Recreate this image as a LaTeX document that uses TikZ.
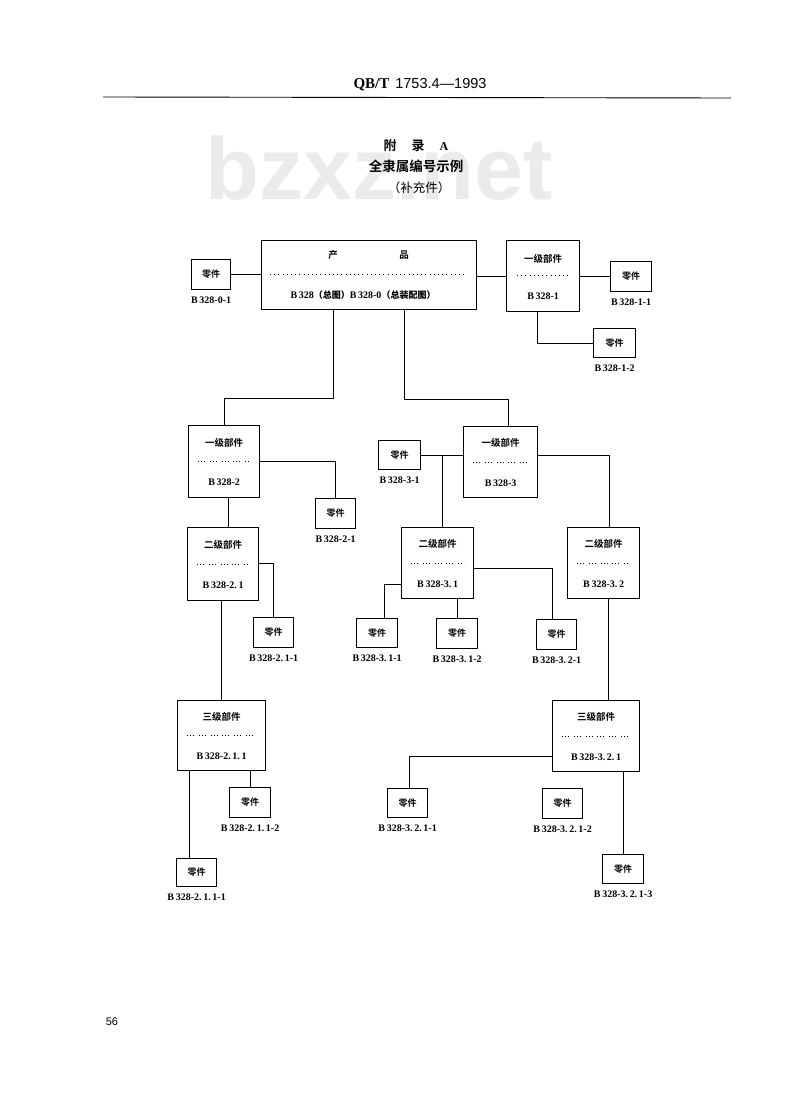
\documentclass[tikz,border=0pt]{standalone}
\usepackage{fontspec}
\setmainfont{Liberation Serif}
\newfontfamily\cjkb{Noto Sans CJK SC Bold}
\newfontfamily\cjk{Noto Sans CJK SC}
\newfontfamily\hsans{Liberation Sans}
\usetikzlibrary{calc}
\tikzset{
  box/.style={draw, line width=1.2pt, inner sep=0pt, anchor=north west},
  part/.style={box, font=\cjkb\fontsize{9}{10}\selectfont},
  ttl/.style={font=\cjkb\fontsize{9.5}{10}\selectfont, inner sep=0pt},
  code/.style={font=\bfseries\fontsize{10}{11}\selectfont, inner sep=0pt},
  conn/.style={line width=0.8pt},
  dotsg/.style={line width=1pt, dash pattern=on 0.8pt off 2.2pt on 0.8pt off 2.2pt on 0.8pt off 5pt},
  dotse/.style={line width=1pt, dash pattern=on 0.8pt off 3.4pt},
}
\newcommand\asmtext[3]{%
  \node[ttl] at ($(#1.center)+(0,-19)$) {#2};
  \draw[dotsg] ($(#1.west)+(10,0)$) -- ($(#1.east)+(-10,0)$);
  \node[code] at ($(#1.center)+(0,21)$) {#3};}
\newcommand\partlab[2]{\node[code] at ($(#1.south)+(0,10.5)$) {#2};}
\begin{document}
\begin{tikzpicture}[x=1pt,y=-1pt]
\path[fill=white] (0,0) rectangle (800,1110);
\useasboundingbox (0,0) rectangle (800,1110);

% watermark
\node[anchor=base, inner sep=0pt, text=black!8, font=\hsans\bfseries\fontsize{88}{88}\selectfont] (wm) at (379,200) {bzxz.net};

% header
\node[inner sep=0pt, anchor=base] (hdr) at (420,89) {{\bfseries\fontsize{15}{16}\selectfont QB/T}\hspace{6pt}{\hsans\fontsize{14.5}{16}\selectfont 1753.4—1993}};
\draw[line width=0.9pt] (103,97) -- (731,98);

% titles
\node[inner sep=0pt] (t1) at (416,146) {{\cjkb\fontsize{13}{14}\selectfont 附\hspace{15pt}录\hspace{15pt}}{\bfseries\fontsize{12}{14}\selectfont A}};
\node[inner sep=0pt, font=\cjkb\fontsize{13.5}{14}\selectfont] (t2) at (416,166) {全隶属编号示例};
\node[inner sep=0pt, font=\cjk\fontsize{12.5}{13}\selectfont] (t3) at (419,188) {（补充件）};

% product box
\node[box, minimum width=215pt, minimum height=69pt] (prod) at (261,240) {};
\node[ttl] (pa) at (333,255) {产};
\node[ttl] (pb) at (404,255) {品};
\draw[dotse] (270,274) -- (467,274);
\node[code] (pc) at (363,295) {B\,328{\cjkb\fontsize{9}{10}\selectfont （总图）}B\,328-0{\cjkb\fontsize{9}{10}\selectfont （总装配图）}};

% first-level boxes
\node[box, minimum width=73pt, minimum height=71pt] (b1) at (506,240) {};
\node[ttl] at ($(b1.center)+(0,-17)$) {一级部件};
\draw[dotse] ($(b1.west)+(11,-1)$) -- ($(b1.east)+(-10,-1)$);
\node[code] at ($(b1.center)+(0,20)$) {B\,328-1};

\node[box, minimum width=71pt, minimum height=72pt] (b2) at (188,425) {};
\asmtext{b2}{一级部件}{B\,328-2}
\node[box, minimum width=74pt, minimum height=71pt] (b3) at (463,426) {};
\asmtext{b3}{一级部件}{B\,328-3}

% second-level boxes
\node[box, minimum width=71pt, minimum height=73pt] (b21) at (187,527) {};
\asmtext{b21}{二级部件}{B\,328-2.\,1}
\node[box, minimum width=72pt, minimum height=71pt] (b31) at (401,527) {};
\asmtext{b31}{二级部件}{B\,328-3.\,1}
\node[box, minimum width=72pt, minimum height=71pt] (b32) at (567,527) {};
\asmtext{b32}{二级部件}{B\,328-3.\,2}

% third-level boxes
\node[box, minimum width=88pt, minimum height=70pt] (b211) at (177,700) {};
\asmtext{b211}{三级部件}{B\,328-2.\,1.\,1}
\node[box, minimum width=87pt, minimum height=71pt] (b321) at (552,700) {};
\asmtext{b321}{三级部件}{B\,328-3.\,2.\,1}

% parts
\node[part, minimum width=39pt, minimum height=30pt] (p01) at (191,259) {零件};
\partlab{p01}{B\,328-0-1}
\node[part, minimum width=41pt, minimum height=30pt] (p11) at (610,261) {零件};
\partlab{p11}{B\,328-1-1}
\node[part, minimum width=42pt, minimum height=29pt] (p12) at (593,328) {零件};
\partlab{p12}{B\,328-1-2}
\node[part, minimum width=40pt, minimum height=30pt] (p21) at (315,498) {零件};
\partlab{p21}{B\,328-2-1}
\node[part, minimum width=40pt, minimum height=30pt] (p211) at (253,617) {零件};
\partlab{p211}{B\,328-2.\,1-1}
\node[part, minimum width=41pt, minimum height=30pt] (p2112) at (229,787) {零件};
\partlab{p2112}{B\,328-2.\,1.\,1-2}
\node[part, minimum width=40pt, minimum height=28pt] (p2111) at (176,858) {零件};
\partlab{p2111}{B\,328-2.\,1.\,1-1}
\node[part, minimum width=42pt, minimum height=29pt] (p31) at (378,440) {零件};
\partlab{p31}{B\,328-3-1}
\node[part, minimum width=41pt, minimum height=29pt] (p311) at (356,618) {零件};
\partlab{p311}{B\,328-3.\,1-1}
\node[part, minimum width=41pt, minimum height=30pt] (p312) at (436,618) {零件};
\partlab{p312}{B\,328-3.\,1-2}
\node[part, minimum width=40pt, minimum height=30pt] (p321) at (536,619) {零件};
\partlab{p321}{B\,328-3.\,2-1}
\node[part, minimum width=40pt, minimum height=29pt] (p3211) at (387,788) {零件};
\partlab{p3211}{B\,328-3.\,2.\,1-1}
\node[part, minimum width=40pt, minimum height=30pt] (p3212) at (542,788) {零件};
\partlab{p3212}{B\,328-3.\,2.\,1-2}
\node[part, minimum width=41pt, minimum height=29pt] (p3213) at (602,854) {零件};
\partlab{p3213}{B\,328-3.\,2.\,1-3}

% connectors
\draw[conn] (p01.east) -- (p01.east -| prod.west);
\draw[conn] (b1.west -| prod.east) -- (b1.west);
\draw[conn] (b1.east) -- (b1.east -| p11.west);
\draw[conn] ($(b1.south)+(-6,0)$) |- (p12.west);
\draw[conn] ($(prod.south west)+(72,0)$) -- ++(0,88) -| (b2.north);
\draw[conn] ($(prod.south west)+(143,0)$) -- ++(0,89) -| ($(b3.north)+(8,0)$);
\draw[conn] (b2.east) -| (p21.north);
\draw[conn] ($(b2.south)+(4,0)$) -- ($(b21.north)+(5,0)$);
\draw[conn] ($(b21.east)+(0,-1)$) -| (p211.north);
\draw[conn] (b211.north |- b21.south) -- (b211.north);
\draw[conn] ($(b211.south west)+(12,0)$) coordinate (c1) -- (c1 |- p2111.north);
\draw[conn] (p2112.north |- b211.south) -- (p2112.north);
\draw[conn] (p31.east) -- (p31.east -| b3.west);
\draw[conn] ($(p31.east)!0.5!(p31.east -| b3.west)$) coordinate (c2) -- (c2 |- b31.north);
\draw[conn] ($(b3.east)+(0,-7)$) -| ($(b32.north)+(6,0)$);
\draw[conn] ($(b31.east)+(0,5)$) -| ($(p321.north)+(-4,0)$);
\draw[conn] ($(b31.west)+(0,21)$) -| ($(p311.north)+(7,0)$);
\draw[conn] (p312.north |- b31.south) -- (p312.north);
\draw[conn] ($(b32.south)+(5,0)$) coordinate (c3) -- (c3 |- b321.north);
\draw[conn] ($(b321.west)+(0,20)$) -| ($(p3211.north)+(2,0)$);
\draw[conn] (p3213.north |- b321.south) -- (p3213.north);

% page number
\node[inner sep=0pt, font=\hsans\fontsize{11}{12}\selectfont] (pg) at (112,1022) {56};
\end{tikzpicture}
\end{document}
